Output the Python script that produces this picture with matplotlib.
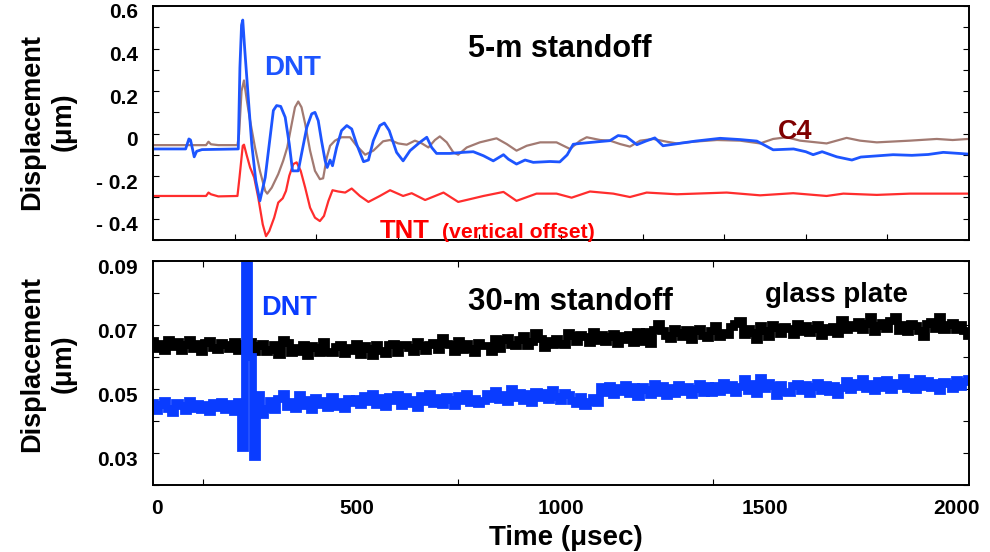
import numpy as np
import matplotlib
matplotlib.use('Agg')
import matplotlib.pyplot as plt
from matplotlib.transforms import ScaledTranslation

plt.rcParams['font.family'] = ['Liberation Sans', 'DejaVu Sans']
plt.rcParams['font.weight'] = 'bold'

# ---- 5-m standoff traces (time in usec, displacement in um) ----
dnt_t = [0, 80, 88, 92, 101, 107, 120, 209, 213, 217, 220, 225, 234, 242, 252, 262,
         275, 287, 295, 303, 313, 324, 334, 342, 356, 364, 377, 389, 397, 405, 413,
         422, 427, 434, 440, 450, 462, 475, 487, 499, 516, 528, 540, 556, 567, 579,
         597, 613, 630, 654, 671, 683, 695, 728, 760, 785, 810, 834, 859, 871, 891,
         912, 932, 973, 997, 1015, 1030, 1047, 1080, 1120, 1140, 1160, 1186, 1208,
         1230, 1250, 1275, 1330, 1390, 1440, 1480, 1520, 1570, 1600, 1618, 1640,
         1676, 1713, 1735, 1814, 1860, 1900, 1937, 1998]
dnt_v = [-0.072, -0.072, -0.025, -0.030, -0.109, -0.083, -0.075, -0.072, 0.31, 0.51,
         0.534, 0.392, 0.156, -0.049, -0.222, -0.316, -0.206, -0.017, 0.109, 0.132,
         0.128, 0.077, -0.049, -0.175, -0.175, -0.096, 0.03, 0.093, 0.10, 0.061,
         -0.033, -0.128, -0.159, -0.124, -0.151, -0.065, 0.014, 0.038, 0.022, -0.049,
         -0.132, -0.124, -0.033, 0.038, 0.05, 0.014, -0.088, -0.128, -0.08, -0.041,
         -0.017, -0.065, -0.093, -0.093, -0.088, -0.085, -0.104, -0.128, -0.099,
         -0.12, -0.143, -0.124, -0.135, -0.131, -0.133, -0.10, -0.05, -0.046, -0.04,
         -0.033, -0.009, -0.014, -0.052, -0.035, -0.02, -0.057, -0.05, -0.035,
         -0.022, -0.028, -0.035, -0.076, -0.072, -0.085, -0.099, -0.085, -0.109,
         -0.124, -0.11, -0.099, -0.102, -0.098, -0.088, -0.096]

c4_t = [0, 130, 136, 142, 160, 207, 211, 217, 223, 230, 238, 250, 262, 275, 280, 291,
        307, 319, 329, 340, 348, 356, 364, 373, 385, 397, 409, 417, 426, 434, 446,
        462, 483, 499, 520, 540, 564, 581, 601, 622, 642, 659, 675, 691, 703, 720,
        736, 748, 769, 801, 842, 867, 891, 916, 949, 989, 1022, 1047, 1063, 1096,
        1120, 1145, 1169, 1194, 1226, 1259, 1284, 1324, 1382, 1439, 1488, 1520,
        1553, 1586, 1651, 1700, 1733, 1774, 1855, 1921, 1960, 1998]
c4_v = [-0.054, -0.054, -0.038, -0.050, -0.054, -0.054, -0.002, 0.20, 0.25, 0.156,
        0.061, -0.065, -0.175, -0.269, -0.282, -0.254, -0.19, -0.128, -0.065, 0.046,
        0.124, 0.151, 0.124, 0.046, -0.08, -0.175, -0.214, -0.21, -0.112, -0.057,
        -0.033, -0.017, -0.017, -0.057, -0.099, -0.08, -0.036, -0.03, -0.046,
        -0.052, -0.033, -0.046, -0.065, -0.03, -0.013, -0.041, -0.088, -0.099,
        -0.065, -0.041, -0.022, -0.049, -0.08, -0.057, -0.041, -0.041, -0.072,
        -0.033, -0.017, -0.03, -0.033, -0.049, -0.061, -0.033, -0.025, -0.038,
        -0.046, -0.038, -0.03, -0.033, -0.046, -0.025, -0.017, -0.033, -0.046,
        -0.02, -0.033, -0.041, -0.033, -0.025, -0.03, -0.025]

tnt_t = [0, 130, 136, 142, 160, 207, 212, 220, 223, 230, 238, 248, 258, 269, 277, 285,
         297, 307, 318, 326, 334, 344, 352, 362, 373, 385, 397, 409, 419, 430, 440,
         454, 471, 487, 507, 528, 556, 581, 613, 634, 667, 712, 748, 777, 810, 859,
         891, 940, 989, 1026, 1071, 1128, 1169, 1210, 1284, 1406, 1488, 1569, 1651,
         1692, 1774, 1855, 1998]
tnt_v = [-0.293, -0.293, -0.277, -0.285, -0.295, -0.293, -0.206, -0.057, -0.052,
         -0.104, -0.159, -0.206, -0.301, -0.427, -0.482, -0.458, -0.395, -0.324,
         -0.304, -0.269, -0.198, -0.143, -0.135, -0.175, -0.254, -0.348, -0.395,
         -0.411, -0.387, -0.316, -0.266, -0.272, -0.277, -0.258, -0.293, -0.321,
         -0.293, -0.266, -0.293, -0.28, -0.312, -0.277, -0.321, -0.308, -0.293,
         -0.274, -0.316, -0.282, -0.282, -0.301, -0.272, -0.282, -0.298, -0.277,
         -0.285, -0.277, -0.29, -0.28, -0.293, -0.282, -0.288, -0.282, -0.282]

# ---- 30-m standoff traces, sampled every 10 usec ----
t_far = np.linspace(0, 2000, 201)
glass_v = [
    0.0649, 0.0626, 0.0641, 0.0618, 0.0654, 0.0631, 0.0646, 0.0620, 0.0638, 0.0652,
    0.0624, 0.0640, 0.0616, 0.0643, 0.0650, 0.0628, 0.0622, 0.0645, 0.0637, 0.0625,
    0.0647, 0.0619, 0.0642, 0.0629, 0.0648, 0.0617, 0.0633, 0.0640, 0.0616, 0.0623,
    0.0639, 0.0607, 0.0654, 0.0644, 0.0612, 0.0628, 0.0615, 0.0637, 0.0603, 0.0634,
    0.0628, 0.0611, 0.0646, 0.0617, 0.0613, 0.0632, 0.0638, 0.0610, 0.0629, 0.0618,
    0.0641, 0.0606, 0.0634, 0.0625, 0.0602, 0.0638, 0.0618, 0.0609, 0.0639, 0.0642,
    0.0611, 0.0637, 0.0639, 0.0627, 0.0616, 0.0648, 0.0634, 0.0618, 0.0636, 0.0643,
    0.0621, 0.0660, 0.0641, 0.0636, 0.0617, 0.0651, 0.0622, 0.0640, 0.0626, 0.0614,
    0.0645, 0.0635, 0.0634, 0.0615, 0.0655, 0.0626, 0.0653, 0.0659, 0.0638, 0.0633,
    0.0653, 0.0667, 0.0635, 0.0648, 0.0675, 0.0656, 0.0629, 0.0651, 0.0636, 0.0657,
    0.0640, 0.0638, 0.0674, 0.0665, 0.0646, 0.0668, 0.0662, 0.0644, 0.0677, 0.0650,
    0.0670, 0.0647, 0.0663, 0.0673, 0.0641, 0.0666, 0.0654, 0.0670, 0.0645, 0.0678,
    0.0648, 0.0679, 0.0642, 0.0685, 0.0702, 0.0681, 0.0666, 0.0655, 0.0686, 0.0675,
    0.0663, 0.0683, 0.0652, 0.0680, 0.0687, 0.0666, 0.0660, 0.0681, 0.0696, 0.0663,
    0.0674, 0.0670, 0.0694, 0.0702, 0.0714, 0.0668, 0.0689, 0.0676, 0.0654, 0.0697,
    0.0680, 0.0663, 0.0701, 0.0690, 0.0673, 0.0693, 0.0687, 0.0669, 0.0704, 0.0677,
    0.0696, 0.0674, 0.0688, 0.0700, 0.0666, 0.0691, 0.0679, 0.0695, 0.0671, 0.0717,
    0.0685, 0.0700, 0.0692, 0.0708, 0.0683, 0.0702, 0.0724, 0.0679, 0.0698, 0.0706,
    0.0686, 0.0713, 0.0724, 0.0682, 0.0700, 0.0677, 0.0704, 0.0696, 0.0680, 0.0664,
    0.0703, 0.0710, 0.0688, 0.0724, 0.0683, 0.0699, 0.0707, 0.0685, 0.0701, 0.0681,
    0.0666]
dnt_far_v = [
    0.0457, 0.0430, 0.0451, 0.0463, 0.0436, 0.0425, 0.0455, 0.0448, 0.0431, 0.0461,
    0.0439, 0.0454, 0.0433, 0.0450, 0.0428, 0.0456, 0.0442, 0.0459, 0.0435, 0.0452,
    0.0429, 0.0460, 0.0317, 0.0960, 0.0600, 0.0289, 0.0480, 0.0418, 0.0439, 0.0463,
    0.0435, 0.0469, 0.0485, 0.0443, 0.0460, 0.0437, 0.0480, 0.0447, 0.0467, 0.0433,
    0.0473, 0.0450, 0.0464, 0.0441, 0.0475, 0.0445, 0.0458, 0.0436, 0.0470, 0.0455,
    0.0469, 0.0449, 0.0479, 0.0459, 0.0485, 0.0451, 0.0472, 0.0445, 0.0476, 0.0462,
    0.0481, 0.0447, 0.0474, 0.0454, 0.0467, 0.0441, 0.0478, 0.0458, 0.0484, 0.0453,
    0.0471, 0.0450, 0.0475, 0.0466, 0.0448, 0.0477, 0.0461, 0.0483, 0.0456, 0.0470,
    0.0452, 0.0462, 0.0483, 0.0468, 0.0494, 0.0465, 0.0480, 0.0458, 0.0499, 0.0472,
    0.0487, 0.0463, 0.0485, 0.0455, 0.0492, 0.0471, 0.0488, 0.0467, 0.0496, 0.0474,
    0.0461, 0.0486, 0.0482, 0.0462, 0.0452, 0.0475, 0.0446, 0.0458, 0.0472, 0.0455,
    0.0505, 0.0486, 0.0510, 0.0480, 0.0502, 0.0492, 0.0514, 0.0483, 0.0505, 0.0476,
    0.0507, 0.0498, 0.0481, 0.0516, 0.0489, 0.0509, 0.0478, 0.0504, 0.0485, 0.0512,
    0.0490, 0.0506, 0.0482, 0.0500, 0.0517, 0.0487, 0.0508, 0.0487, 0.0510, 0.0492,
    0.0519, 0.0497, 0.0513, 0.0487, 0.0507, 0.0531, 0.0494, 0.0515, 0.0483, 0.0533,
    0.0499, 0.0518, 0.0509, 0.0477, 0.0512, 0.0491, 0.0486, 0.0508, 0.0517, 0.0495,
    0.0514, 0.0484, 0.0506, 0.0520, 0.0493, 0.0511, 0.0490, 0.0509, 0.0482, 0.0502,
    0.0526, 0.0497, 0.0520, 0.0506, 0.0531, 0.0500, 0.0515, 0.0494, 0.0524, 0.0504,
    0.0528, 0.0498, 0.0519, 0.0509, 0.0533, 0.0501, 0.0521, 0.0496, 0.0530, 0.0507,
    0.0525, 0.0503, 0.0518, 0.0495, 0.0523, 0.0516, 0.0500, 0.0527, 0.0505, 0.0522,
    0.0530]

fig = plt.figure(figsize=(9.9, 5.52), dpi=100)
ax1 = fig.add_axes([153 / 990, 1 - 240 / 552, 816 / 990, 234 / 552])
ax2 = fig.add_axes([153 / 990, 1 - 485 / 552, 816 / 990, 224 / 552])
shift_down = ScaledTranslation(0, -5 / 100, fig.dpi_scale_trans)

# top panel
ax1.plot(tnt_t, tnt_v, color='#ff2d2d', lw=1.6)
ax1.plot(c4_t, c4_v, color='#a27a72', lw=1.6)
ax1.plot(dnt_t, dnt_v, color='#1d55ff', lw=2.0)
ax1.set_xlim(0, 2000)
ax1.set_ylim(-0.5, 0.6)
ax1.set_xticks(np.arange(200, 2000, 200))
ax1.set_xticklabels([])
ax1.set_yticks([-0.4, -0.2, 0, 0.2, 0.4, 0.6])
ax1.set_yticklabels(['- 0.4', '- 0.2', '0', '0.2', '0.4', '0.6'])
ax1.set_yticks(np.arange(-0.5, 0.65, 0.1), minor=True)
ax1.tick_params(which='both', direction='in', left=True, right=True, top=False,
                bottom=True, length=4, width=0.8)
ax1.tick_params(axis='y', labelsize=15, pad=11)

ax1.text(342, 0.274, 'DNT', color='#1d55ff', fontsize=20, ha='center', va='baseline')
ax1.text(997, 0.359, '5-m standoff', color='black', fontsize=22, ha='center', va='baseline')
ax1.text(1575, -0.024, 'C4', color='#7f0000', fontsize=19.5, ha='center', va='baseline')
ax1.text(556, -0.49, 'TNT', color='#ff0000', fontsize=18.5, ha='left', va='baseline')
ax1.text(708, -0.49, '(vertical offset)', color='#ff0000', fontsize=15.3,
         ha='left', va='baseline')

# bottom panel
ax2.plot(t_far, glass_v, color='black', lw=5.6, drawstyle='steps-mid',
         solid_joinstyle='miter', solid_capstyle='butt')
ax2.plot(t_far, dnt_far_v, color='#0a3cff', lw=5.6, drawstyle='steps-mid',
         solid_joinstyle='miter', solid_capstyle='butt')
ax2.set_xlim(0, 2000)
ax2.set_ylim(0.02, 0.09)
ax2.set_xticks([0, 500, 1000, 1500, 2000])
ax2.set_xticklabels(['0', '500', '1000', '1500', '2000'])
ax2.set_xticks([122, 747, 1372], minor=True)
ax2.set_yticks([0.03, 0.05, 0.07, 0.09])
ax2.set_yticklabels(['0.03', '0.05', '0.07', '0.09'])
ax2.set_yticks(np.arange(0.02, 0.095, 0.01), minor=True)
ax2.tick_params(axis='x', which='major', length=0, labelsize=15, pad=10)
ax2.tick_params(axis='x', which='minor', direction='in', top=True, bottom=True,
                length=4, width=0.8)
ax2.tick_params(axis='y', which='both', direction='in', left=True, right=True,
                length=4, width=0.8)
ax2.tick_params(axis='y', labelsize=15, pad=11)

ax2.text(334, 0.0731, 'DNT', color='#0a3cff', fontsize=19.5, ha='center', va='baseline')
ax2.text(1022, 0.0747, '30-m standoff', color='black', fontsize=22.5, ha='center',
         va='baseline')
ax2.text(1676, 0.0773, 'glass plate', color='black', fontsize=20, ha='center',
         va='baseline')

for ax in (ax1, ax2):
    for sp in ax.spines.values():
        sp.set_linewidth(1.4)
    for lbl in ax.get_yticklabels():
        lbl.set_transform(lbl.get_transform() + shift_down)

xlbls = ax2.get_xticklabels()
xlbls[0].set_transform(xlbls[0].get_transform() + ScaledTranslation(0.04, 0, fig.dpi_scale_trans))
xlbls[-1].set_transform(xlbls[-1].get_transform() + ScaledTranslation(-0.13, 0, fig.dpi_scale_trans))

fig.text(48 / 990, 1 - 122 / 552, 'Displacement\n(μm)', rotation=90, ha='center',
         va='center', multialignment='center', fontsize=19.5, linespacing=1.3)
fig.text(48 / 990, 1 - 364 / 552, 'Displacement\n(μm)', rotation=90, ha='center',
         va='center', multialignment='center', fontsize=19.5, linespacing=1.3)
fig.text(566 / 990, 1 - 545 / 552, 'Time (μsec)', ha='center', va='baseline', fontsize=20)

fig.savefig('out.png', dpi=100)
